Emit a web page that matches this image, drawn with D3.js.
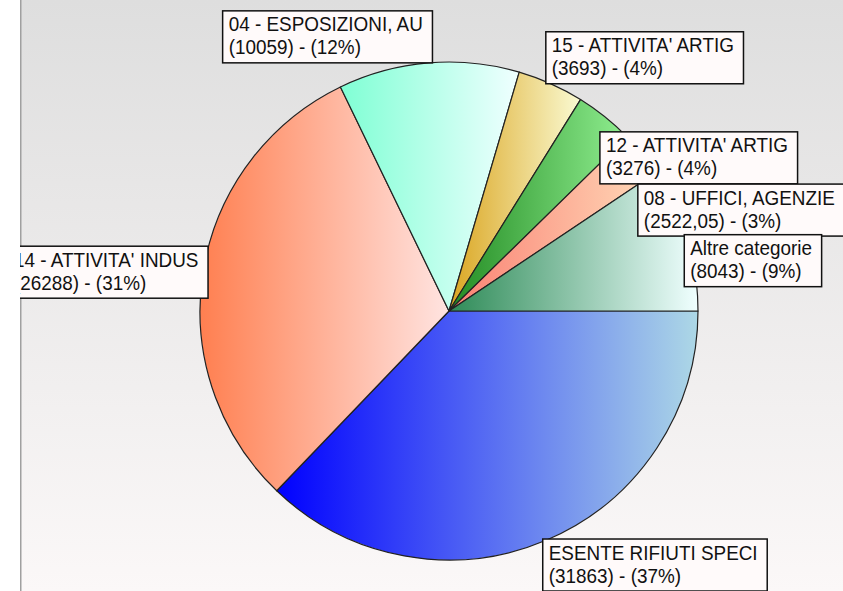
<!DOCTYPE html>
<html>
<head>
<meta charset="utf-8">
<script src="https://cdn.jsdelivr.net/npm/d3@7"></script>
<style>
  html, body { margin: 0; padding: 0; background: #ffffff; }
  svg { display: block; }
</style>
</head>
<body>
<svg id="chart" width="843" height="591"></svg>
<script>
// ---- data ----
const categories = [
  "ESENTE RIFIUTI SPECI",
  "14 - ATTIVITA' INDUS",
  "04 - ESPOSIZIONI, AU",
  "15 - ATTIVITA' ARTIG",
  "12 - ATTIVITA' ARTIG",
  "08 - UFFICI, AGENZIE",
  "Altre categorie"
];
const values = [31863, 26288, 10059, 3693, 3276, 2522.05, 8043];
const colorsFrom = ["#0000ff", "#ff7f50", "#7fffd4", "#daa520", "#228b22", "#fa8072", "#2e8b57"];
const colorsTo   = ["#add8e6", "#ffe4e1", "#f0ffff", "#fafad2", "#90ee90", "#ffdab9", "#f0ffff"];

// ---- layout ----
const W = 843, H = 591;
const marginLeft = 20;
const cx = 449, cy = 311, R = 249;
const fontSize = 21, fontScaleX = 0.9, lineH = 23, boxH = 52, padL = 6, padR = 9.5;
// label box shift relative to the slice's outer mid point (dx, dy of box corner)
const labelShift = [[-4, -1], [5, -26], [4, -52], [-5, -52], [-5, 15], [-4.5, 30], [-3, -4]];

const total = d3.sum(values);
const fmtVal = v => String(v).replace(".", ",");

const svg = d3.select("#chart");
const defs = svg.append("defs");

// background gradient
const bg = defs.append("linearGradient").attr("id", "bgGrad")
  .attr("x1", 0).attr("y1", 0).attr("x2", 0).attr("y2", 1);
bg.append("stop").attr("offset", "0%").attr("stop-color", "#dedede");
bg.append("stop").attr("offset", "100%").attr("stop-color", "#fbf8f8");

defs.append("clipPath").attr("id", "plotClip")
  .append("rect").attr("x", marginLeft).attr("y", 0).attr("width", W - marginLeft).attr("height", H);

svg.append("rect").attr("x", 0).attr("y", 0).attr("width", W).attr("height", H).attr("fill", "#ffffff");

const plot = svg.append("g").attr("clip-path", "url(#plotClip)");
plot.append("rect").attr("x", marginLeft).attr("y", 0).attr("width", W - marginLeft).attr("height", H)
  .attr("fill", "url(#bgGrad)");
plot.append("rect").attr("x", marginLeft).attr("y", 0).attr("width", 1.5).attr("height", H)
  .attr("fill", "#a0a0a0");

// slice gradients
values.forEach((v, i) => {
  const g = defs.append("linearGradient").attr("id", "sg" + i)
    .attr("x1", 0).attr("y1", 0).attr("x2", 1).attr("y2", 0);
  g.append("stop").attr("offset", "0%").attr("stop-color", colorsFrom[i]);
  g.append("stop").attr("offset", "100%").attr("stop-color", colorsTo[i]);
});

const pie = d3.pie().sort(null).value(d => d)
  .startAngle(Math.PI / 2).endAngle(Math.PI / 2 + 2 * Math.PI);
const arcs = pie(values);
const arc = d3.arc().innerRadius(0).outerRadius(R);

const pieG = plot.append("g").attr("transform", `translate(${cx},${cy})`);
pieG.selectAll("path.slice").data(arcs).enter().append("path")
  .attr("class", "slice")
  .attr("d", arc)
  .attr("fill", (d, i) => `url(#sg${i})`)
  .attr("stroke", "#222")
  .attr("stroke-width", 1.2)
  .attr("stroke-linejoin", "round");

// labels
const labG = plot.append("g");
arcs.forEach((d, i) => {
  const a = (d.startAngle + d.endAngle) / 2;
  const ax = cx + R * Math.sin(a);
  const ay = cy - R * Math.cos(a);
  const right = Math.sin(a) >= 0;
  const lines = [categories[i], `(${fmtVal(values[i])}) - (${Math.round(values[i] / total * 100)}%)`];

  const g = labG.append("g");
  const rect = g.append("rect").attr("fill", "#fffafa").attr("stroke", "#111").attr("stroke-width", 1.5);
  const tg = g.append("g");
  const texts = lines.map((t, k) => tg.append("text")
    .attr("x", 0).attr("y", k * lineH)
    .attr("font-family", "'Liberation Sans', Arial, sans-serif")
    .attr("font-size", fontSize)
    .attr("fill", "#111")
    .text(t));
  const tw = d3.max(texts, t => t.node().getComputedTextLength()) * fontScaleX;
  const w = tw + padL + padR;
  const bx = right ? ax + labelShift[i][0] : ax + labelShift[i][0] - w;
  const by = ay + labelShift[i][1];
  rect.attr("x", bx).attr("y", by).attr("width", w).attr("height", boxH);
  tg.attr("transform", `translate(${bx + padL},${by + 20.5}) scale(${fontScaleX},1)`);
});
</script>
</body>
</html>
